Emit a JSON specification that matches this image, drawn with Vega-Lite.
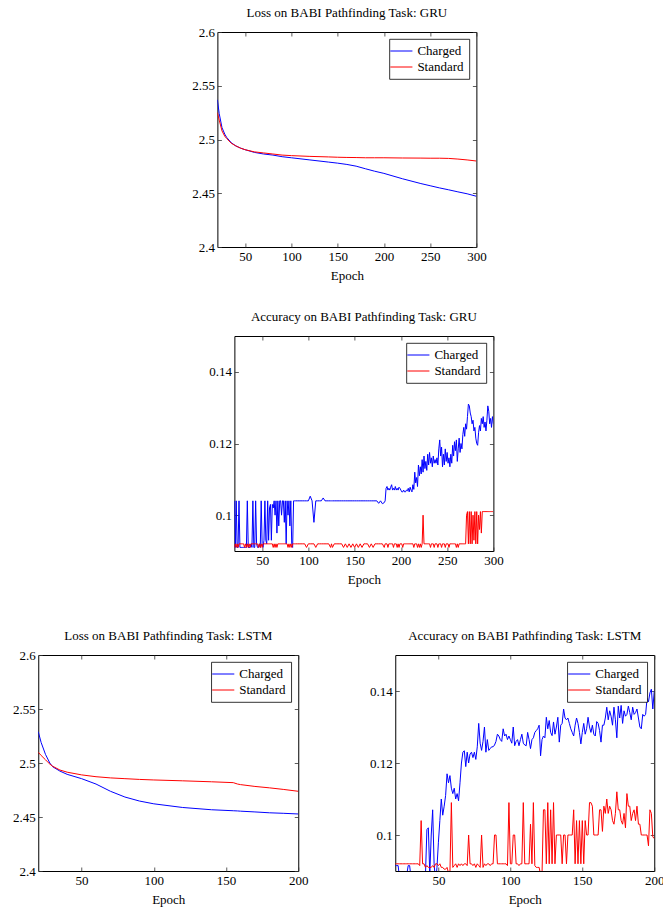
{
"$schema": "https://vega.github.io/schema/vega-lite/v6.json",
"background": "white",
"padding": {"left": 0, "top": 6, "right": 0, "bottom": 0},
"config": {
  "font": "Liberation Serif",
  "view": {"stroke": "black", "strokeWidth": 1},
  "axis": {"grid": false, "domain": false, "labelFont": "Liberation Serif", "labelFontSize": 13, "labelColor": "black", "titleFont": "Liberation Serif", "titleFontSize": 13, "titleFontWeight": "normal", "titleColor": "black", "tickColor": "#333", "tickWidth": 0.8, "tickSize": -4, "labelPadding": 7, "titlePadding": 6, "labelFlush": false, "labelOverlap": false},
  "title": {"font": "Liberation Serif", "fontSize": 13, "fontWeight": "normal", "color": "black", "offset": 12, "anchor": "middle", "frame": "group"},
  "legend": {"orient": "top-right", "offset": 7, "padding": 5, "strokeColor": "black", "strokeWidth": 0.8, "fillColor": "white", "labelFont": "Liberation Serif", "labelFontSize": 13, "labelColor": "black", "symbolStrokeWidth": 1, "rowPadding": 2, "labelOffset": 9}
},
"datasets": {
"gruLoss": [
{"epoch":20,"Charged":2.537,"Standard":2.525},{"epoch":22,"Charged":2.524,"Standard":2.518},{"epoch":25,"Charged":2.511,"Standard":2.508},{"epoch":28,"Charged":2.505,"Standard":2.503},{"epoch":30,"Charged":2.502,"Standard":2.501},{"epoch":35,"Charged":2.497,"Standard":2.4965},{"epoch":40,"Charged":2.494,"Standard":2.494},{"epoch":45,"Charged":2.492,"Standard":2.492},{"epoch":50,"Charged":2.4905,"Standard":2.4905},{"epoch":60,"Charged":2.488,"Standard":2.4885},{"epoch":70,"Charged":2.4865,"Standard":2.4875},{"epoch":80,"Charged":2.4855,"Standard":2.4865},{"epoch":90,"Charged":2.484,"Standard":2.4855},{"epoch":100,"Charged":2.483,"Standard":2.485},{"epoch":120,"Charged":2.481,"Standard":2.4843},{"epoch":140,"Charged":2.479,"Standard":2.4838},{"epoch":150,"Charged":2.478,"Standard":2.4835},{"epoch":160,"Charged":2.4768,"Standard":2.4833},{"epoch":170,"Charged":2.4752,"Standard":2.4832},{"epoch":180,"Charged":2.4728,"Standard":2.483},{"epoch":190,"Charged":2.4705,"Standard":2.483},{"epoch":200,"Charged":2.4685,"Standard":2.483},{"epoch":220,"Charged":2.4635,"Standard":2.4828},{"epoch":240,"Charged":2.459,"Standard":2.4827},{"epoch":250,"Charged":2.457,"Standard":2.4826},{"epoch":260,"Charged":2.455,"Standard":2.4826},{"epoch":270,"Charged":2.4532,"Standard":2.4824},{"epoch":280,"Charged":2.4513,"Standard":2.4818},{"epoch":290,"Charged":2.4495,"Standard":2.481},{"epoch":300,"Charged":2.4472,"Standard":2.48}
],
"gruAcc": [
{"epoch":20,"Charged":0.104,"Standard":0.091},{"epoch":21,"Charged":0.091,"Standard":0.092},{"epoch":22,"Charged":0.104,"Standard":0.091},{"epoch":23,"Charged":0.091,"Standard":0.092},{"epoch":24,"Charged":0.091,"Standard":0.091},{"epoch":25,"Charged":0.104,"Standard":0.092},{"epoch":26,"Charged":0.091,"Standard":0.092},{"epoch":27,"Charged":0.091,"Standard":0.092},{"epoch":28,"Charged":0.091,"Standard":0.092},{"epoch":29,"Charged":0.091,"Standard":0.092},{"epoch":30,"Charged":0.091,"Standard":0.092},{"epoch":31,"Charged":0.091,"Standard":0.091},{"epoch":32,"Charged":0.091,"Standard":0.092},{"epoch":33,"Charged":0.091,"Standard":0.091},{"epoch":34,"Charged":0.104,"Standard":0.092},{"epoch":35,"Charged":0.091,"Standard":0.091},{"epoch":36,"Charged":0.091,"Standard":0.092},{"epoch":37,"Charged":0.091,"Standard":0.091},{"epoch":38,"Charged":0.092,"Standard":0.092},{"epoch":39,"Charged":0.091,"Standard":0.092},{"epoch":40,"Charged":0.104,"Standard":0.092},{"epoch":41,"Charged":0.091,"Standard":0.092},{"epoch":42,"Charged":0.091,"Standard":0.092},{"epoch":43,"Charged":0.104,"Standard":0.092},{"epoch":44,"Charged":0.092,"Standard":0.092},{"epoch":45,"Charged":0.091,"Standard":0.092},{"epoch":46,"Charged":0.091,"Standard":0.091},{"epoch":47,"Charged":0.092,"Standard":0.092},{"epoch":48,"Charged":0.091,"Standard":0.091},{"epoch":49,"Charged":0.104,"Standard":0.092},{"epoch":50,"Charged":0.092,"Standard":0.091},{"epoch":51,"Charged":0.091,"Standard":0.092},{"epoch":52,"Charged":0.093,"Standard":0.092},{"epoch":53,"Charged":0.104,"Standard":0.092},{"epoch":54,"Charged":0.093,"Standard":0.092},{"epoch":55,"Charged":0.092,"Standard":0.092},{"epoch":56,"Charged":0.104,"Standard":0.092},{"epoch":57,"Charged":0.093,"Standard":0.092},{"epoch":58,"Charged":0.102,"Standard":0.092},{"epoch":59,"Charged":0.103,"Standard":0.092},{"epoch":60,"Charged":0.093,"Standard":0.092},{"epoch":61,"Charged":0.103,"Standard":0.092},{"epoch":62,"Charged":0.102,"Standard":0.091},{"epoch":63,"Charged":0.104,"Standard":0.092},{"epoch":64,"Charged":0.1,"Standard":0.091},{"epoch":65,"Charged":0.104,"Standard":0.092},{"epoch":66,"Charged":0.095,"Standard":0.091},{"epoch":67,"Charged":0.104,"Standard":0.092},{"epoch":68,"Charged":0.097,"Standard":0.092},{"epoch":69,"Charged":0.104,"Standard":0.092},{"epoch":70,"Charged":0.104,"Standard":0.092},{"epoch":71,"Charged":0.1,"Standard":0.092},{"epoch":72,"Charged":0.104,"Standard":0.092},{"epoch":73,"Charged":0.104,"Standard":0.092},{"epoch":74,"Charged":0.098,"Standard":0.092},{"epoch":75,"Charged":0.104,"Standard":0.092},{"epoch":76,"Charged":0.092,"Standard":0.092},{"epoch":77,"Charged":0.104,"Standard":0.092},{"epoch":78,"Charged":0.1,"Standard":0.091},{"epoch":79,"Charged":0.104,"Standard":0.092},{"epoch":80,"Charged":0.097,"Standard":0.091},{"epoch":81,"Charged":0.104,"Standard":0.092},{"epoch":82,"Charged":0.092,"Standard":0.091},{"epoch":83,"Charged":0.091,"Standard":0.092},{"epoch":84,"Charged":0.104,"Standard":0.092},{"epoch":85,"Charged":0.104,"Standard":0.092},
{"epoch":86,"Charged":0.104,"Standard":0.092},{"epoch":88,"Charged":0.104,"Standard":0.092},{"epoch":90,"Charged":0.104,"Standard":0.092},{"epoch":92,"Charged":0.104,"Standard":0.092},{"epoch":94,"Charged":0.104,"Standard":0.092},{"epoch":96,"Charged":0.104,"Standard":0.092},{"epoch":98,"Charged":0.104,"Standard":0.091},{"epoch":100,"Charged":0.104,"Standard":0.092},{"epoch":102,"Charged":0.1053,"Standard":0.092},{"epoch":104,"Charged":0.104,"Standard":0.092},{"epoch":106,"Charged":0.098,"Standard":0.092},{"epoch":108,"Charged":0.104,"Standard":0.091},{"epoch":110,"Charged":0.104,"Standard":0.092},{"epoch":112,"Charged":0.104,"Standard":0.092},{"epoch":114,"Charged":0.104,"Standard":0.092},{"epoch":116,"Charged":0.1048,"Standard":0.092},{"epoch":118,"Charged":0.104,"Standard":0.092},{"epoch":120,"Charged":0.104,"Standard":0.092},{"epoch":122,"Charged":0.104,"Standard":0.092},{"epoch":124,"Charged":0.104,"Standard":0.091},{"epoch":125,"Charged":0.104,"Standard":0.092},{"epoch":126,"Charged":0.104,"Standard":0.091},{"epoch":128,"Charged":0.104,"Standard":0.092},{"epoch":130,"Charged":0.104,"Standard":0.092},{"epoch":132,"Charged":0.104,"Standard":0.092},{"epoch":134,"Charged":0.104,"Standard":0.092},{"epoch":136,"Charged":0.104,"Standard":0.092},{"epoch":138,"Charged":0.104,"Standard":0.091},{"epoch":140,"Charged":0.104,"Standard":0.092},{"epoch":142,"Charged":0.104,"Standard":0.091},{"epoch":144,"Charged":0.104,"Standard":0.092},{"epoch":146,"Charged":0.104,"Standard":0.091},{"epoch":148,"Charged":0.104,"Standard":0.092},{"epoch":150,"Charged":0.104,"Standard":0.091},{"epoch":152,"Charged":0.104,"Standard":0.092},{"epoch":154,"Charged":0.104,"Standard":0.091},{"epoch":156,"Charged":0.104,"Standard":0.092},{"epoch":158,"Charged":0.104,"Standard":0.091},{"epoch":160,"Charged":0.104,"Standard":0.092},{"epoch":162,"Charged":0.104,"Standard":0.092},{"epoch":164,"Charged":0.104,"Standard":0.092},{"epoch":166,"Charged":0.104,"Standard":0.091},{"epoch":168,"Charged":0.104,"Standard":0.092},{"epoch":170,"Charged":0.104,"Standard":0.091},{"epoch":172,"Charged":0.104,"Standard":0.092},{"epoch":174,"Charged":0.104,"Standard":0.092},{"epoch":176,"Charged":0.1033,"Standard":0.092},{"epoch":178,"Charged":0.104,"Standard":0.092},{"epoch":180,"Charged":0.1032,"Standard":0.092},{"epoch":182,"Charged":0.1035,"Standard":0.091},
{"epoch":183,"Charged":0.104,"Standard":0.092},{"epoch":184,"Charged":0.1075,"Standard":0.092},{"epoch":185,"Charged":0.108,"Standard":0.092},{"epoch":186,"Charged":0.107,"Standard":0.091},{"epoch":187,"Charged":0.1075,"Standard":0.092},{"epoch":188,"Charged":0.107,"Standard":0.092},{"epoch":189,"Charged":0.1078,"Standard":0.092},{"epoch":190,"Charged":0.1085,"Standard":0.092},{"epoch":191,"Charged":0.107,"Standard":0.092},{"epoch":192,"Charged":0.1075,"Standard":0.091},{"epoch":193,"Charged":0.107,"Standard":0.092},{"epoch":194,"Charged":0.108,"Standard":0.092},{"epoch":195,"Charged":0.107,"Standard":0.092},{"epoch":196,"Charged":0.1075,"Standard":0.091},{"epoch":197,"Charged":0.107,"Standard":0.092},{"epoch":198,"Charged":0.1078,"Standard":0.091},{"epoch":199,"Charged":0.1075,"Standard":0.092},{"epoch":200,"Charged":0.107,"Standard":0.092},{"epoch":201,"Charged":0.1065,"Standard":0.092},{"epoch":202,"Charged":0.1065,"Standard":0.091},{"epoch":203,"Charged":0.107,"Standard":0.092},{"epoch":204,"Charged":0.1065,"Standard":0.092},{"epoch":205,"Charged":0.1065,"Standard":0.092},{"epoch":206,"Charged":0.107,"Standard":0.092},{"epoch":207,"Charged":0.1068,"Standard":0.092},{"epoch":208,"Charged":0.1075,"Standard":0.092},{"epoch":209,"Charged":0.1065,"Standard":0.092},{"epoch":210,"Charged":0.1078,"Standard":0.092},{"epoch":211,"Charged":0.107,"Standard":0.092},{"epoch":212,"Charged":0.1065,"Standard":0.092},{"epoch":213,"Charged":0.1085,"Standard":0.092},{"epoch":214,"Charged":0.1072,"Standard":0.091},{"epoch":215,"Charged":0.112,"Standard":0.092},{"epoch":216,"Charged":0.109,"Standard":0.092},{"epoch":217,"Charged":0.1105,"Standard":0.092},{"epoch":218,"Charged":0.108,"Standard":0.091},{"epoch":219,"Charged":0.114,"Standard":0.092},{"epoch":220,"Charged":0.111,"Standard":0.091},{"epoch":221,"Charged":0.1135,"Standard":0.092},{"epoch":222,"Charged":0.1115,"Standard":0.091},{"epoch":223,"Charged":0.1155,"Standard":0.092},{"epoch":224,"Charged":0.112,"Standard":0.1},{"epoch":225,"Charged":0.1165,"Standard":0.092},{"epoch":226,"Charged":0.113,"Standard":0.092},{"epoch":227,"Charged":0.115,"Standard":0.092},{"epoch":228,"Charged":0.1125,"Standard":0.092},{"epoch":229,"Charged":0.117,"Standard":0.092},{"epoch":230,"Charged":0.114,"Standard":0.092},{"epoch":231,"Charged":0.1175,"Standard":0.092},{"epoch":232,"Charged":0.1145,"Standard":0.091},{"epoch":233,"Charged":0.116,"Standard":0.092},{"epoch":234,"Charged":0.1135,"Standard":0.092},{"epoch":235,"Charged":0.1165,"Standard":0.092},{"epoch":236,"Charged":0.1145,"Standard":0.091},{"epoch":237,"Charged":0.1155,"Standard":0.092},{"epoch":238,"Charged":0.1145,"Standard":0.092},{"epoch":239,"Charged":0.116,"Standard":0.092},{"epoch":240,"Charged":0.114,"Standard":0.091},{"epoch":241,"Charged":0.1185,"Standard":0.092},{"epoch":242,"Charged":0.121,"Standard":0.092},{"epoch":243,"Charged":0.1165,"Standard":0.092},{"epoch":244,"Charged":0.119,"Standard":0.091},{"epoch":245,"Charged":0.1135,"Standard":0.092},{"epoch":246,"Charged":0.117,"Standard":0.092},{"epoch":247,"Charged":0.114,"Standard":0.092},{"epoch":248,"Charged":0.1185,"Standard":0.091},{"epoch":249,"Charged":0.115,"Standard":0.092},{"epoch":250,"Charged":0.1175,"Standard":0.092},{"epoch":251,"Charged":0.1145,"Standard":0.092},{"epoch":252,"Charged":0.116,"Standard":0.091},{"epoch":253,"Charged":0.1135,"Standard":0.092},{"epoch":254,"Charged":0.117,"Standard":0.092},{"epoch":255,"Charged":0.1145,"Standard":0.092},{"epoch":256,"Charged":0.1195,"Standard":0.092},{"epoch":257,"Charged":0.1165,"Standard":0.092},{"epoch":258,"Charged":0.1205,"Standard":0.092},{"epoch":259,"Charged":0.118,"Standard":0.092},{"epoch":260,"Charged":0.121,"Standard":0.091},{"epoch":261,"Charged":0.115,"Standard":0.092},{"epoch":262,"Charged":0.1185,"Standard":0.091},{"epoch":263,"Charged":0.1215,"Standard":0.092},{"epoch":264,"Charged":0.1175,"Standard":0.092},{"epoch":265,"Charged":0.12,"Standard":0.092},{"epoch":266,"Charged":0.1185,"Standard":0.092},{"epoch":267,"Charged":0.1225,"Standard":0.092},{"epoch":268,"Charged":0.1245,"Standard":0.092},{"epoch":269,"Charged":0.122,"Standard":0.092},{"epoch":270,"Charged":0.1255,"Standard":0.092},{"epoch":271,"Charged":0.124,"Standard":0.1},{"epoch":272,"Charged":0.1275,"Standard":0.101},{"epoch":273,"Charged":0.131,"Standard":0.092},{"epoch":274,"Charged":0.1305,"Standard":0.101},{"epoch":275,"Charged":0.1285,"Standard":0.092},{"epoch":276,"Charged":0.1275,"Standard":0.101},{"epoch":277,"Charged":0.1255,"Standard":0.092},{"epoch":278,"Charged":0.1265,"Standard":0.1},{"epoch":279,"Charged":0.1235,"Standard":0.093},{"epoch":280,"Charged":0.1245,"Standard":0.101},{"epoch":281,"Charged":0.1215,"Standard":0.092},{"epoch":282,"Charged":0.12,"Standard":0.101},{"epoch":283,"Charged":0.1195,"Standard":0.092},{"epoch":284,"Charged":0.123,"Standard":0.1},{"epoch":285,"Charged":0.125,"Standard":0.096},{"epoch":286,"Charged":0.1235,"Standard":0.101},{"epoch":287,"Charged":0.127,"Standard":0.095},{"epoch":288,"Charged":0.1255,"Standard":0.101},{"epoch":289,"Charged":0.1275,"Standard":0.101},{"epoch":290,"Charged":0.1245,"Standard":0.101},{"epoch":291,"Charged":0.126,"Standard":0.101},{"epoch":292,"Charged":0.1235,"Standard":0.101},{"epoch":293,"Charged":0.1265,"Standard":0.101},{"epoch":294,"Charged":0.1305,"Standard":0.101},{"epoch":295,"Charged":0.129,"Standard":0.101},{"epoch":296,"Charged":0.1255,"Standard":0.101},{"epoch":297,"Charged":0.127,"Standard":0.101},{"epoch":298,"Charged":0.1245,"Standard":0.101},{"epoch":299,"Charged":0.1275,"Standard":0.101},{"epoch":300,"Charged":0.1255,"Standard":0.101}
],
"lstmLoss": [
{"epoch":20,"Charged":2.529,"Standard":2.51},{"epoch":22,"Charged":2.519,"Standard":2.507},{"epoch":25,"Charged":2.508,"Standard":2.503},{"epoch":28,"Charged":2.5,"Standard":2.499},{"epoch":30,"Charged":2.4965,"Standard":2.497},{"epoch":35,"Charged":2.4925,"Standard":2.4935},{"epoch":40,"Charged":2.4895,"Standard":2.4915},{"epoch":50,"Charged":2.4855,"Standard":2.489},{"epoch":60,"Charged":2.4805,"Standard":2.4873},{"epoch":70,"Charged":2.4738,"Standard":2.4862},{"epoch":80,"Charged":2.4685,"Standard":2.4855},{"epoch":90,"Charged":2.4648,"Standard":2.4848},{"epoch":100,"Charged":2.4622,"Standard":2.4843},{"epoch":120,"Charged":2.4588,"Standard":2.4835},{"epoch":140,"Charged":2.4567,"Standard":2.4826},{"epoch":155,"Charged":2.4558,"Standard":2.4818},{"epoch":158,"Charged":2.4556,"Standard":2.4805},{"epoch":160,"Charged":2.4554,"Standard":2.48},{"epoch":170,"Charged":2.4547,"Standard":2.4783},{"epoch":180,"Charged":2.4539,"Standard":2.477},{"epoch":190,"Charged":2.4534,"Standard":2.4755},{"epoch":200,"Charged":2.4528,"Standard":2.4738}
],
"lstmAcc": [
{"epoch":20,"Charged":0.0915,"Standard":0.092},{"epoch":21,"Charged":0.0915,"Standard":0.092},{"epoch":22,"Charged":0.0915,"Standard":0.092},{"epoch":23,"Charged":0.088,"Standard":0.092},{"epoch":24,"Charged":0.088,"Standard":0.092},{"epoch":25,"Charged":0.088,"Standard":0.092},{"epoch":26,"Charged":0.088,"Standard":0.092},{"epoch":27,"Charged":0.088,"Standard":0.092},{"epoch":28,"Charged":0.089,"Standard":0.092},{"epoch":29,"Charged":0.0915,"Standard":0.092},{"epoch":30,"Charged":0.0915,"Standard":0.092},{"epoch":31,"Charged":0.088,"Standard":0.092},{"epoch":32,"Charged":0.087,"Standard":0.092},{"epoch":33,"Charged":0.087,"Standard":0.092},{"epoch":34,"Charged":0.087,"Standard":0.092},{"epoch":35,"Charged":0.087,"Standard":0.092},{"epoch":36,"Charged":0.087,"Standard":0.092},{"epoch":37,"Charged":0.087,"Standard":0.0915},{"epoch":38,"Charged":0.087,"Standard":0.104},{"epoch":39,"Charged":0.087,"Standard":0.092},{"epoch":40,"Charged":0.088,"Standard":0.092},{"epoch":41,"Charged":0.089,"Standard":0.091},{"epoch":42,"Charged":0.1015,"Standard":0.0915},{"epoch":43,"Charged":0.102,"Standard":0.091},{"epoch":44,"Charged":0.089,"Standard":0.091},{"epoch":45,"Charged":0.1,"Standard":0.091},{"epoch":46,"Charged":0.107,"Standard":0.0915},{"epoch":47,"Charged":0.092,"Standard":0.091},{"epoch":48,"Charged":0.087,"Standard":0.092},{"epoch":49,"Charged":0.091,"Standard":0.092},{"epoch":50,"Charged":0.098,"Standard":0.0915},{"epoch":51,"Charged":0.104,"Standard":0.092},{"epoch":52,"Charged":0.11,"Standard":0.091},{"epoch":53,"Charged":0.1055,"Standard":0.091},{"epoch":54,"Charged":0.108,"Standard":0.0905},{"epoch":55,"Charged":0.111,"Standard":0.0905},{"epoch":56,"Charged":0.117,"Standard":0.091},{"epoch":57,"Charged":0.1145,"Standard":0.0895},{"epoch":58,"Charged":0.1165,"Standard":0.0895},{"epoch":59,"Charged":0.113,"Standard":0.109},{"epoch":60,"Charged":0.1115,"Standard":0.091},{"epoch":61,"Charged":0.113,"Standard":0.0915},{"epoch":62,"Charged":0.11,"Standard":0.092},{"epoch":63,"Charged":0.1115,"Standard":0.091},{"epoch":64,"Charged":0.1095,"Standard":0.092},{"epoch":65,"Charged":0.1145,"Standard":0.0915},{"epoch":66,"Charged":0.12,"Standard":0.092},{"epoch":67,"Charged":0.123,"Standard":0.0915},{"epoch":68,"Charged":0.1234,"Standard":0.092},{"epoch":69,"Charged":0.119,"Standard":0.092},{"epoch":70,"Charged":0.123,"Standard":0.0915},{"epoch":71,"Charged":0.12,"Standard":0.1},{"epoch":72,"Charged":0.1225,"Standard":0.092},{"epoch":73,"Charged":0.123,"Standard":0.092},{"epoch":74,"Charged":0.1215,"Standard":0.0915},{"epoch":75,"Charged":0.123,"Standard":0.092},{"epoch":76,"Charged":0.121,"Standard":0.091},{"epoch":77,"Charged":0.1245,"Standard":0.092},{"epoch":78,"Charged":0.131,"Standard":0.0915},{"epoch":79,"Charged":0.1255,"Standard":0.091},{"epoch":80,"Charged":0.1235,"Standard":0.1},{"epoch":81,"Charged":0.126,"Standard":0.091},{"epoch":82,"Charged":0.13,"Standard":0.092},{"epoch":83,"Charged":0.123,"Standard":0.0915},{"epoch":84,"Charged":0.1265,"Standard":0.092},{"epoch":85,"Charged":0.1235,"Standard":0.092},{"epoch":86,"Charged":0.124,"Standard":0.0915},{"epoch":87,"Charged":0.1245,"Standard":0.092},{"epoch":88,"Charged":0.1245,"Standard":0.092},{"epoch":89,"Charged":0.125,"Standard":0.1},{"epoch":90,"Charged":0.126,"Standard":0.1},{"epoch":91,"Charged":0.128,"Standard":0.092},{"epoch":92,"Charged":0.1275,"Standard":0.092},{"epoch":93,"Charged":0.1265,"Standard":0.092},{"epoch":94,"Charged":0.126,"Standard":0.092},{"epoch":95,"Charged":0.1295,"Standard":0.092},{"epoch":96,"Charged":0.1275,"Standard":0.092},{"epoch":97,"Charged":0.128,"Standard":0.092},{"epoch":98,"Charged":0.1265,"Standard":0.0915},{"epoch":99,"Charged":0.1275,"Standard":0.109},{"epoch":100,"Charged":0.1265,"Standard":0.092},{"epoch":101,"Charged":0.1255,"Standard":0.092},{"epoch":102,"Charged":0.13,"Standard":0.1},{"epoch":103,"Charged":0.1248,"Standard":0.1},{"epoch":104,"Charged":0.126,"Standard":0.092},{"epoch":105,"Charged":0.1265,"Standard":0.092},{"epoch":106,"Charged":0.1248,"Standard":0.0915},{"epoch":107,"Charged":0.1265,"Standard":0.092},{"epoch":108,"Charged":0.128,"Standard":0.092},{"epoch":109,"Charged":0.1255,"Standard":0.109},{"epoch":110,"Charged":0.125,"Standard":0.092},{"epoch":111,"Charged":0.1248,"Standard":0.092},{"epoch":112,"Charged":0.1285,"Standard":0.092},{"epoch":113,"Charged":0.1265,"Standard":0.092},{"epoch":114,"Charged":0.124,"Standard":0.103},{"epoch":115,"Charged":0.1265,"Standard":0.092},{"epoch":116,"Charged":0.127,"Standard":0.109},{"epoch":117,"Charged":0.1285,"Standard":0.0915},{"epoch":118,"Charged":0.129,"Standard":0.091},{"epoch":119,"Charged":0.1295,"Standard":0.091},{"epoch":120,"Charged":0.1305,"Standard":0.091},{"epoch":121,"Charged":0.122,"Standard":0.089},{"epoch":122,"Charged":0.1265,"Standard":0.089},{"epoch":123,"Charged":0.1275,"Standard":0.107},{"epoch":124,"Charged":0.127,"Standard":0.107},{"epoch":125,"Charged":0.1327,"Standard":0.092},{"epoch":126,"Charged":0.1295,"Standard":0.109},{"epoch":127,"Charged":0.1318,"Standard":0.092},{"epoch":128,"Charged":0.1285,"Standard":0.107},{"epoch":129,"Charged":0.1276,"Standard":0.092},{"epoch":130,"Charged":0.1314,"Standard":0.109},{"epoch":131,"Charged":0.128,"Standard":0.092},{"epoch":132,"Charged":0.13,"Standard":0.1},{"epoch":133,"Charged":0.1327,"Standard":0.1},{"epoch":134,"Charged":0.1258,"Standard":0.1},{"epoch":135,"Charged":0.1305,"Standard":0.1},{"epoch":136,"Charged":0.131,"Standard":0.092},{"epoch":137,"Charged":0.135,"Standard":0.1},{"epoch":138,"Charged":0.1325,"Standard":0.1},{"epoch":139,"Charged":0.132,"Standard":0.092},{"epoch":140,"Charged":0.1325,"Standard":0.1},{"epoch":141,"Charged":0.131,"Standard":0.1},{"epoch":142,"Charged":0.1295,"Standard":0.1},{"epoch":143,"Charged":0.1285,"Standard":0.1},{"epoch":144,"Charged":0.1275,"Standard":0.107},{"epoch":145,"Charged":0.1305,"Standard":0.092},{"epoch":146,"Charged":0.1325,"Standard":0.104},{"epoch":147,"Charged":0.131,"Standard":0.092},{"epoch":148,"Charged":0.1285,"Standard":0.104},{"epoch":149,"Charged":0.1253,"Standard":0.092},{"epoch":150,"Charged":0.1285,"Standard":0.104},{"epoch":151,"Charged":0.131,"Standard":0.092},{"epoch":152,"Charged":0.128,"Standard":0.104},{"epoch":153,"Charged":0.1295,"Standard":0.1},{"epoch":154,"Charged":0.1327,"Standard":0.1},{"epoch":155,"Charged":0.13,"Standard":0.109},{"epoch":156,"Charged":0.1285,"Standard":0.109},{"epoch":157,"Charged":0.1305,"Standard":0.108},{"epoch":158,"Charged":0.128,"Standard":0.1},{"epoch":159,"Charged":0.1275,"Standard":0.1},{"epoch":160,"Charged":0.1315,"Standard":0.1},{"epoch":161,"Charged":0.131,"Standard":0.1},{"epoch":162,"Charged":0.129,"Standard":0.107},{"epoch":163,"Charged":0.1258,"Standard":0.107},{"epoch":164,"Charged":0.1305,"Standard":0.101},{"epoch":165,"Charged":0.1305,"Standard":0.108},{"epoch":166,"Charged":0.1325,"Standard":0.106},{"epoch":167,"Charged":0.1355,"Standard":0.11},{"epoch":168,"Charged":0.132,"Standard":0.106},{"epoch":169,"Charged":0.1345,"Standard":0.108},{"epoch":170,"Charged":0.133,"Standard":0.107},{"epoch":171,"Charged":0.1305,"Standard":0.104},{"epoch":172,"Charged":0.1355,"Standard":0.103},{"epoch":173,"Charged":0.132,"Standard":0.106},{"epoch":174,"Charged":0.127,"Standard":0.112},{"epoch":175,"Charged":0.1358,"Standard":0.107},{"epoch":176,"Charged":0.1325,"Standard":0.107},{"epoch":177,"Charged":0.136,"Standard":0.104},{"epoch":178,"Charged":0.131,"Standard":0.103},{"epoch":179,"Charged":0.1345,"Standard":0.106},{"epoch":180,"Charged":0.133,"Standard":0.102},{"epoch":181,"Charged":0.1335,"Standard":0.1115},{"epoch":182,"Charged":0.1358,"Standard":0.108},{"epoch":183,"Charged":0.134,"Standard":0.108},{"epoch":184,"Charged":0.132,"Standard":0.104},{"epoch":185,"Charged":0.1355,"Standard":0.106},{"epoch":186,"Charged":0.1335,"Standard":0.107},{"epoch":187,"Charged":0.134,"Standard":0.104},{"epoch":188,"Charged":0.135,"Standard":0.108},{"epoch":189,"Charged":0.1325,"Standard":0.103},{"epoch":190,"Charged":0.13,"Standard":0.103},{"epoch":191,"Charged":0.1295,"Standard":0.1},{"epoch":192,"Charged":0.1335,"Standard":0.1},{"epoch":193,"Charged":0.133,"Standard":0.1},{"epoch":194,"Charged":0.1335,"Standard":0.1},{"epoch":195,"Charged":0.138,"Standard":0.1},{"epoch":196,"Charged":0.137,"Standard":0.097},{"epoch":197,"Charged":0.1395,"Standard":0.107},{"epoch":198,"Charged":0.1405,"Standard":0.106},{"epoch":199,"Charged":0.135,"Standard":0.0995},{"epoch":200,"Charged":0.14,"Standard":0.099}
]
},
"resolve": {"scale": {"color": "independent"}},
"spacing": 42,
"center": true,
"vconcat": [
{
  "resolve": {"scale": {"color": "independent"}},
  "spacing": 27,
  "center": true,
  "vconcat": [
  {
    "width": 259, "height": 215,
    "title": {"text": "Loss on BABI Pathfinding Task: GRU", "offset": 6},
    "data": {"name": "gruLoss"},
    "transform": [{"fold": ["Charged", "Standard"], "as": ["series", "value"]}],
    "layer": [
      {"mark": {"type": "line", "strokeWidth": 1, "clip": true},
       "encoding": {
         "x": {"field": "epoch", "type": "quantitative", "scale": {"domain": [20, 300], "nice": false, "zero": false}, "axis": {"orient": "bottom", "title": "Epoch", "values": [50, 100, 150, 200, 250, 300]}},
         "y": {"field": "value", "type": "quantitative", "scale": {"domain": [2.4, 2.6], "nice": false, "zero": false}, "axis": {"orient": "left", "title": null, "values": [2.4, 2.45, 2.5, 2.55, 2.6], "format": ".3~g"}},
         "color": {"field": "series", "type": "nominal", "scale": {"domain": ["Charged", "Standard"], "range": ["#0000ff", "#ff0000"]}, "legend": {"title": null, "symbolType": "M-1.7,0H1.7", "symbolSize": 169, "encode": {"symbols": {"update": {"stroke": {"signal": "datum.value === 'Charged' ? '#0000ff' : '#ff0000'"}, "strokeWidth": {"value": 1}}}}}}
       }},
      {"mark": {"type": "point", "opacity": 0},
       "encoding": {
         "x": {"field": "epoch", "type": "quantitative", "axis": {"orient": "top", "title": null, "labels": false, "values": [50, 100, 150, 200, 250, 300]}},
         "y": {"field": "value", "type": "quantitative", "axis": {"orient": "right", "title": null, "labels": false, "values": [2.4, 2.45, 2.5, 2.55, 2.6], "minExtent": 46, "maxExtent": 46}}
       }}
    ],
    "resolve": {"axis": {"x": "independent", "y": "independent"}}
  },
  {
    "width": 259, "height": 215,
    "title": {"text": "Accuracy on BABI Pathfinding Task: GRU", "offset": 12},
    "data": {"name": "gruAcc"},
    "transform": [{"fold": ["Charged", "Standard"], "as": ["series", "value"]}],
    "layer": [
      {"mark": {"type": "line", "strokeWidth": 1, "clip": true},
       "encoding": {
         "x": {"field": "epoch", "type": "quantitative", "scale": {"domain": [20, 300], "nice": false, "zero": false}, "axis": {"orient": "bottom", "title": "Epoch", "values": [50, 100, 150, 200, 250, 300]}},
         "y": {"field": "value", "type": "quantitative", "scale": {"domain": [0.09, 0.15], "nice": false, "zero": false}, "axis": {"orient": "left", "title": null, "values": [0.1, 0.12, 0.14], "format": ".3~g"}},
         "color": {"field": "series", "type": "nominal", "scale": {"domain": ["Charged", "Standard"], "range": ["#0000ff", "#ff0000"]}, "legend": {"title": null, "symbolType": "M-1.7,0H1.7", "symbolSize": 169, "encode": {"symbols": {"update": {"stroke": {"signal": "datum.value === 'Charged' ? '#0000ff' : '#ff0000'"}, "strokeWidth": {"value": 1}}}}}}
       }},
      {"mark": {"type": "point", "opacity": 0},
       "encoding": {
         "x": {"field": "epoch", "type": "quantitative", "axis": {"orient": "top", "title": null, "labels": false, "values": [50, 100, 150, 200, 250, 300]}},
         "y": {"field": "value", "type": "quantitative", "axis": {"orient": "right", "title": null, "labels": false, "values": [0.1, 0.12, 0.14], "minExtent": 12, "maxExtent": 12}}
       }}
    ],
    "resolve": {"axis": {"x": "independent", "y": "independent"}}
  }
  ]
},
{
  "resolve": {"scale": {"color": "independent"}},
  "bounds": "flush",
  "spacing": 97,
  "hconcat": [
  {
    "width": 260, "height": 216,
    "title": {"text": "Loss on BABI Pathfinding Task: LSTM", "offset": 6},
    "data": {"name": "lstmLoss"},
    "transform": [{"fold": ["Charged", "Standard"], "as": ["series", "value"]}],
    "layer": [
      {"mark": {"type": "line", "strokeWidth": 1, "clip": true},
       "encoding": {
         "x": {"field": "epoch", "type": "quantitative", "scale": {"domain": [20, 200], "nice": false, "zero": false}, "axis": {"orient": "bottom", "title": "Epoch", "values": [50, 100, 150, 200]}},
         "y": {"field": "value", "type": "quantitative", "scale": {"domain": [2.4, 2.6], "nice": false, "zero": false}, "axis": {"orient": "left", "title": null, "values": [2.4, 2.45, 2.5, 2.55, 2.6], "format": ".3~g", "minExtent": 37, "maxExtent": 37}},
         "color": {"field": "series", "type": "nominal", "scale": {"domain": ["Charged", "Standard"], "range": ["#0000ff", "#ff0000"]}, "legend": {"title": null, "symbolType": "M-1.7,0H1.7", "symbolSize": 169, "encode": {"symbols": {"update": {"stroke": {"signal": "datum.value === 'Charged' ? '#0000ff' : '#ff0000'"}, "strokeWidth": {"value": 1}}}}}}
       }},
      {"mark": {"type": "point", "opacity": 0},
       "encoding": {
         "x": {"field": "epoch", "type": "quantitative", "axis": {"orient": "top", "title": null, "labels": false, "values": [50, 100, 150, 200]}},
         "y": {"field": "value", "type": "quantitative", "axis": {"orient": "right", "title": null, "labels": false, "values": [2.4, 2.45, 2.5, 2.55, 2.6]}}
       }}
    ],
    "resolve": {"axis": {"x": "independent", "y": "independent"}}
  },
  {
    "width": 259, "height": 216,
    "title": {"text": "Accuracy on BABI Pathfinding Task: LSTM", "offset": 12},
    "data": {"name": "lstmAcc"},
    "transform": [{"fold": ["Charged", "Standard"], "as": ["series", "value"]}],
    "layer": [
      {"mark": {"type": "line", "strokeWidth": 1, "clip": true},
       "encoding": {
         "x": {"field": "epoch", "type": "quantitative", "scale": {"domain": [20, 200], "nice": false, "zero": false}, "axis": {"orient": "bottom", "title": "Epoch", "values": [50, 100, 150, 200]}},
         "y": {"field": "value", "type": "quantitative", "scale": {"domain": [0.09, 0.15], "nice": false, "zero": false}, "axis": {"orient": "left", "title": null, "values": [0.1, 0.12, 0.14], "format": ".3~g"}},
         "color": {"field": "series", "type": "nominal", "scale": {"domain": ["Charged", "Standard"], "range": ["#0000ff", "#ff0000"]}, "legend": {"title": null, "symbolType": "M-1.7,0H1.7", "symbolSize": 169, "encode": {"symbols": {"update": {"stroke": {"signal": "datum.value === 'Charged' ? '#0000ff' : '#ff0000'"}, "strokeWidth": {"value": 1}}}}}}
       }},
      {"mark": {"type": "point", "opacity": 0},
       "encoding": {
         "x": {"field": "epoch", "type": "quantitative", "axis": {"orient": "top", "title": null, "labels": false, "values": [50, 100, 150, 200]}},
         "y": {"field": "value", "type": "quantitative", "axis": {"orient": "right", "title": null, "labels": false, "values": [0.1, 0.12, 0.14], "minExtent": 47, "maxExtent": 47}}
       }}
    ],
    "resolve": {"axis": {"x": "independent", "y": "independent"}}
  }
  ]
}
]
}
